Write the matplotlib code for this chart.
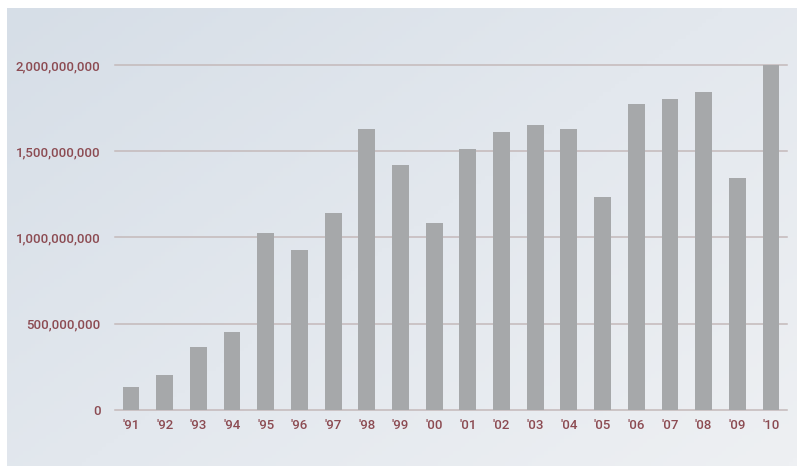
import numpy as np
import matplotlib

matplotlib.use("Agg")
import matplotlib.pyplot as plt
from matplotlib.colors import LinearSegmentedColormap

years = ["'91", "'92", "'93", "'94", "'95", "'96", "'97", "'98", "'99", "'00",
         "'01", "'02", "'03", "'04", "'05", "'06", "'07", "'08", "'09", "'10"]
values = [134e6, 200e6, 365e6, 448e6, 1027e6, 928e6, 1143e6, 1626e6, 1421e6, 1084e6,
          1510e6, 1613e6, 1653e6, 1628e6, 1235e6, 1773e6, 1804e6, 1841e6, 1343e6, 2000e6]
y_ticks = [0, 500e6, 1000e6, 1500e6, 2000e6]
y_tick_labels = ["0", "500,000,000", "1,000,000,000", "1,500,000,000", "2,000,000,000"]

text_color = "#8c4b52"
bar_color = "#a6a8aa"
grid_color = "#c4b9ba"

plt.rcParams["font.family"] = ["Roboto", "DejaVu Sans"]

fig = plt.figure(figsize=(7.97, 4.66), dpi=100)
fig.patch.set_facecolor("white")

# background panel with soft diagonal gradient
bg = fig.add_axes([7 / 797, 0, 1 - 7 / 797, (466 - 8) / 466], zorder=-10)
gx, gy = np.meshgrid(np.linspace(0, 1, 200), np.linspace(0, 1, 120))
grad = 0.55 * gx + 0.45 * gy
cmap = LinearSegmentedColormap.from_list("bg", ["#d6dee7", "#e3e8ee", "#eef0f3"])
bg.imshow(grad, cmap=cmap, aspect="auto", origin="upper", extent=[0, 1, 0, 1])
bg.axis("off")

ax = fig.add_axes([115 / 797, 56.3 / 466, 672 / 797, 344.7 / 466])
ax.set_facecolor("none")
x = np.arange(len(years))
ax.bar(x, values, width=0.5, color=bar_color, zorder=3, clip_on=False)

ax.set_xlim(-0.475, len(years) - 1 + 0.475)
ax.set_ylim(0, 2000e6)
ax.set_yticks(y_ticks)
ax.set_yticklabels(y_tick_labels)
ax.set_xticks(x)
ax.set_xticklabels(years)

for v in y_ticks[1:]:
    ax.axhline(v, color=grid_color, linewidth=1.1, zorder=1, clip_on=False)
for side in ["top", "right", "left"]:
    ax.spines[side].set_visible(False)
ax.spines["bottom"].set_color(grid_color)
ax.spines["bottom"].set_linewidth(1.1)

ax.tick_params(axis="both", length=0, colors=text_color, labelsize=9.5)
ax.tick_params(axis="y", pad=10.5)
ax.tick_params(axis="x", pad=7)
for lbl in ax.get_xticklabels() + ax.get_yticklabels():
    lbl.set_fontweight("medium")

plt.savefig("out.png", dpi=100)
plt.close()
